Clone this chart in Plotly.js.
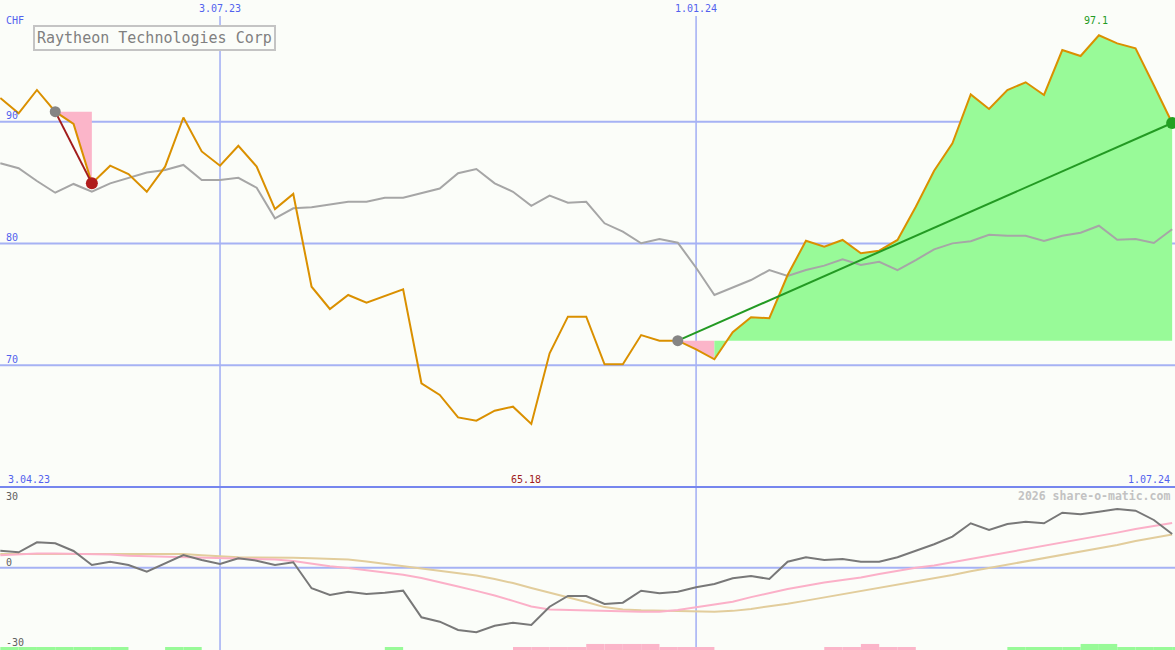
<!DOCTYPE html>
<html>
<head>
<meta charset="utf-8">
<script src="https://cdn.plot.ly/plotly-3.0.1.min.js"></script>
<style>
  html, body { margin: 0; padding: 0; background: #fbfdf9; }
  #chart { width: 1175px; height: 650px; }
</style>
</head>
<body>
<div id="chart"></div>
<script>
// ---------- data ----------
const title = 'Raytheon Technologies Corp';
const currency = 'CHF';
const dates = [
  '2023-04-10','2023-04-17','2023-04-24','2023-05-01','2023-05-08','2023-05-15','2023-05-22','2023-05-29','2023-06-05','2023-06-12',
  '2023-06-19','2023-06-26','2023-07-03','2023-07-10','2023-07-17','2023-07-24','2023-07-31','2023-08-07','2023-08-14','2023-08-21',
  '2023-08-28','2023-09-04','2023-09-11','2023-09-18','2023-09-25','2023-10-02','2023-10-09','2023-10-16','2023-10-23','2023-10-30',
  '2023-11-06','2023-11-13','2023-11-20','2023-11-27','2023-12-04','2023-12-11','2023-12-18','2023-12-25','2024-01-01','2024-01-08',
  '2024-01-15','2024-01-22','2024-01-29','2024-02-05','2024-02-12','2024-02-19','2024-02-26','2024-03-04','2024-03-11','2024-03-18',
  '2024-03-25','2024-04-01','2024-04-08','2024-04-15','2024-04-22','2024-04-29','2024-05-06','2024-05-13','2024-05-20','2024-05-27',
  '2024-06-03','2024-06-10','2024-06-17','2024-06-24','2024-07-01'
];
const price = [
  91.95, 90.69, 92.61, 90.83, 89.82, 84.94, 86.39, 85.70, 84.25, 86.31,
  90.35, 87.56, 86.39, 88.03, 86.32, 82.83, 84.07, 76.45, 74.62, 75.77,
  75.14, 75.69, 76.24, 68.52, 67.56, 65.72, 65.45, 66.27, 66.60, 65.18,
  70.98, 73.99, 73.99, 70.08, 70.08, 72.48, 72.02, 72.02, 71.30, 70.49,
  72.71, 73.94, 73.86, 77.41, 80.23, 79.74, 80.29, 79.20, 79.41, 80.29,
  83.02, 85.98, 88.23, 92.25, 91.05, 92.61, 93.24, 92.20, 95.89, 95.40,
  97.10, 96.44, 96.03, 93.00, 89.90
];
const benchmark = [
  86.59, 86.18, 85.13, 84.17, 84.89, 84.25, 84.94, 85.36, 85.83, 86.04,
  86.45, 85.22, 85.22, 85.40, 84.58, 82.07, 82.89, 82.97, 83.22, 83.43,
  83.43, 83.76, 83.76, 84.12, 84.52, 85.77, 86.12, 84.94, 84.25, 83.10,
  83.93, 83.35, 83.43, 81.66, 80.97, 80.02, 80.37, 80.07, 78.01, 75.77,
  76.37, 77.00, 77.82, 77.33, 77.82, 78.18, 78.70, 78.23, 78.50, 77.82,
  78.64, 79.52, 80.01, 80.18, 80.72, 80.64, 80.64, 80.21, 80.64, 80.89,
  81.46, 80.31, 80.37, 80.04, 81.17
];
const momentum = [
  6.30, 5.70, 9.41, 9.04, 6.19, 1.00, 2.22, 1.00, -1.48, 1.63,
  4.70, 2.85, 1.37, 3.48, 2.59, 1.00, 2.00, -7.63, -10.11, -8.89,
  -9.74, -9.26, -8.52, -18.38, -20.01, -23.09, -23.94, -21.50, -20.38, -21.24,
  -14.45, -10.49, -10.49, -13.45, -12.97, -8.52, -9.49, -8.89, -7.26, -6.04,
  -3.93, -3.08, -4.19, 2.22, 3.85, 2.85, 3.22, 2.22, 2.22, 3.85,
  6.19, 8.67, 11.49, 16.46, 13.97, 16.20, 17.05, 16.46, 20.39, 19.79,
  20.76, 21.76, 21.13, 17.68, 12.49
];
const maFast = [
  4.6, 4.9, 5.3, 5.3, 5.2, 5.1, 4.9, 4.4, 4.2, 4.0,
  3.9, 3.7, 3.6, 3.4, 3.2, 3.0, 2.5, 1.4, 0.5, -0.1,
  -0.9, -1.7, -2.6, -3.8, -5.3, -7.0, -8.6, -10.3, -12.3, -14.4,
  -15.5, -15.7, -15.8, -16.0, -16.2, -16.3, -16.3, -15.7, -14.7, -13.6,
  -12.6, -10.9, -9.4, -7.9, -6.7, -5.5, -4.6, -3.6, -2.3, -1.2,
  0.0, 0.8, 2.0, 3.2, 4.4, 5.6, 6.8, 8.0, 9.3, 10.6,
  11.8, 13.0, 14.3, 15.5, 16.6
];
const maSlow = [
  5.1, 5.1, 5.2, 5.2, 5.2, 5.2, 5.2, 5.2, 5.2, 5.2,
  5.1, 4.6, 4.2, 3.9, 3.8, 3.8, 3.7, 3.5, 3.2, 3.0,
  2.3, 1.4, 0.5, -0.4, -1.2, -2.0, -2.9, -4.2, -5.7, -7.5,
  -9.2, -10.9, -12.7, -14.6, -15.5, -15.8, -15.9, -16.1, -16.3, -16.3,
  -16.0, -15.3, -14.3, -13.4, -12.2, -11.0, -9.9, -8.7, -7.5, -6.4,
  -5.2, -3.9, -2.7, -1.3, -0.1, 1.1, 2.3, 3.5, 4.7, 6.0,
  7.2, 8.4, 9.9, 11.2, 12.3
];
// weekly signal: +1/+2 green, -1/-2 pink, 0 none
const signal = [
  1, 1, 1, 1, 1, 1, 1, 0, 0, 1,
  1, 0, 0, 0, 0, 0, 0, 0, 0, 0,
  0, 1, 0, 0, 0, 0, 0, 0, -1, -1,
  -1, -1, -2, -2, -2, -2, -1, -1, -1, 0,
  0, 0, 0, 0, 0, -1, -1, -2, -1, -1,
  0, 0, 0, 0, 0, 1, 1, 1, 1, 2,
  2, 1, 1, 1, 1
];
const priceTicks = [90, 80, 70];
const oscTicks = [30, 0, -30];
const dateTicks = ['2023-07-03', '2024-01-01'];
const dateTickText = ['3.07.23', '1.01.24'];
const startLabel = '3.04.23';
const endLabel = '1.07.24';
const minLabel = '65.18';
const maxLabel = '97.1';
const credit = '2026 share-o-matic.com';
// event indices (into the arrays)
const drop = { start: 3, end: 5 };
const rally = { start: 37, low: 39, end: 64 };

// ---------- helpers ----------
const W = 1175, H = 650;
const px = v => v / W;
const py = v => 1 - v / H;
const FONT = 'DejaVu Sans Mono, monospace';
const BLUE = '#5262ee';
const GRID = '#a6b2f4';
const BG = '#fbfdf9';
const PINK = '#fbb5c9';
const GREEN = '#98fa98';
const WEEK = 7 * 24 * 3600 * 1000;

function fillBetween(i0, i1, base, color) {
  const xs = dates.slice(i0, i1 + 1);
  const ys = price.slice(i0, i1 + 1);
  return {
    x: xs.concat([dates[i1], dates[i0]]),
    y: ys.concat([base, base]),
    type: 'scatter', mode: 'lines', fill: 'toself', fillcolor: color,
    line: { width: 0, color: color }, hoverinfo: 'skip', xaxis: 'x', yaxis: 'y'
  };
}

const traces = [];
// signal bars at bottom
traces.push({
  type: 'bar', x: dates, y: signal.map(s => Math.abs(s) * 1.12), base: -30.5,
  width: WEEK, offset: 0,
  marker: { color: signal.map(s => s > 0 ? GREEN : PINK), line: { width: 0 } },
  xaxis: 'x', yaxis: 'y2', hoverinfo: 'skip'
});
// oscillator lines
traces.push({ x: dates, y: maSlow, type: 'scatter', mode: 'lines', line: { color: '#e2cd9c', width: 2 }, xaxis: 'x', yaxis: 'y2' });
traces.push({ x: dates, y: maFast, type: 'scatter', mode: 'lines', line: { color: '#fbb0c8', width: 2 }, xaxis: 'x', yaxis: 'y2' });
traces.push({ x: dates, y: momentum, type: 'scatter', mode: 'lines', line: { color: '#787878', width: 2 }, xaxis: 'x', yaxis: 'y2' });

// fills in price panel
traces.push(fillBetween(drop.start, drop.end, price[drop.start], PINK));
traces.push(fillBetween(rally.start, rally.low, price[rally.start], PINK));
traces.push(fillBetween(rally.low, rally.end, price[rally.start], GREEN));

// benchmark and price
traces.push({ x: dates, y: benchmark, type: 'scatter', mode: 'lines', line: { color: '#a6a6a6', width: 2 }, xaxis: 'x', yaxis: 'y' });
traces.push({ x: dates, y: price, type: 'scatter', mode: 'lines', line: { color: '#da9000', width: 2 }, xaxis: 'x', yaxis: 'y' });

// trend lines
traces.push({ x: [dates[drop.start], dates[drop.end]], y: [price[drop.start], price[drop.end]], type: 'scatter', mode: 'lines', line: { color: '#a21c1c', width: 2 } });
traces.push({ x: [dates[rally.start], dates[rally.end]], y: [price[rally.start], price[rally.end]], type: 'scatter', mode: 'lines', line: { color: '#239a23', width: 2 } });

// markers
traces.push({ x: [dates[drop.start], dates[rally.start]], y: [price[drop.start], price[rally.start]], type: 'scatter', mode: 'markers', marker: { color: '#858585', size: 11 } });
traces.push({ x: [dates[drop.end]], y: [price[drop.end]], type: 'scatter', mode: 'markers', marker: { color: '#b01d1d', size: 12 } });
traces.push({ x: [dates[rally.end]], y: [price[rally.end]], type: 'scatter', mode: 'markers', marker: { color: '#22a022', size: 12 } });

// ---------- shapes ----------
const shapes = [];
priceTicks.forEach(v => shapes.push({ type: 'line', xref: 'paper', yref: 'y', x0: 0, x1: 1, y0: v, y1: v, line: { color: GRID, width: 2 }, layer: 'below' }));
dateTicks.forEach(d => shapes.push({ type: 'line', xref: 'x', yref: 'paper', x0: d, x1: d, y0: 0, y1: py(16), line: { color: GRID, width: 1.6 }, layer: 'below' }));
shapes.push({ type: 'line', xref: 'paper', yref: 'y2', x0: 0, x1: 1, y0: 0, y1: 0, line: { color: GRID, width: 2 }, layer: 'below' });
shapes.push({ type: 'line', xref: 'paper', yref: 'paper', x0: 0, x1: 1, y0: py(487), y1: py(487), line: { color: '#7686ee', width: 2 }, layer: 'below' });

// ---------- annotations ----------
const ann = [];
function txt(text, x, xref, y, yref, opts) {
  ann.push(Object.assign({
    text: text, x: x, xref: xref, y: y, yref: yref, showarrow: false,
    xanchor: 'left', yanchor: 'middle', font: { family: FONT, size: 10, color: BLUE }
  }, opts || {}));
}
txt(currency, px(4), 'paper', py(21), 'paper');
priceTicks.forEach(v => txt(String(v), px(4), 'paper', v, 'y', { yshift: 6 }));
dateTicks.forEach((d, i) => txt(dateTickText[i], d, 'x', py(9), 'paper', { xanchor: 'center' }));
txt(startLabel, px(6), 'paper', py(479), 'paper');
txt(endLabel, px(1172), 'paper', py(479), 'paper', { xanchor: 'right' });
txt(minLabel, dates[price.indexOf(Math.min(...price))], 'x', py(479), 'paper', { xanchor: 'center', xshift: -5, font: { family: FONT, size: 10, color: '#a01c1c' } });
txt(maxLabel, dates[price.indexOf(Math.max(...price))], 'x', py(21), 'paper', { xanchor: 'center', xshift: -3, font: { family: FONT, size: 10, color: '#239a23' } });
txt(credit, px(1172), 'paper', py(496), 'paper', { xanchor: 'right', font: { family: FONT, size: 11.5, color: '#c2c2c2', weight: 'bold' } });
// oscillator tick labels: placed just inside the panel (text centres in pixels)
const oscLabelY = [496, 562, 642];
oscTicks.forEach((v, i) => txt(String(v), px(4), 'paper', py(oscLabelY[i]), 'paper', { font: { family: FONT, size: 10, color: '#606060' } }));
// title box
ann.push({
  text: title, xref: 'paper', yref: 'paper', x: px(33), y: py(25), xanchor: 'left', yanchor: 'top',
  showarrow: false, font: { family: FONT, size: 15, color: '#808080' },
  bordercolor: '#c4c4c4', borderwidth: 2, borderpad: 2, bgcolor: BG
});

const layout = {
  width: W, height: H,
  margin: { l: 0, r: 0, t: 0, b: 0, pad: 0 },
  paper_bgcolor: BG, plot_bgcolor: BG,
  showlegend: false,
  barmode: 'overlay',
  xaxis: { type: 'date', range: ['2023-04-09 21:07', '2024-07-02 02:10'], visible: false, fixedrange: true, anchor: 'y' },
  yaxis: { domain: [py(487), 1], range: [60, 100], visible: false, fixedrange: true },
  yaxis2: { domain: [0, py(487)], range: [-30.5, 29.9], visible: false, fixedrange: true },
  shapes: shapes,
  annotations: ann,
  hovermode: false
};

Plotly.newPlot('chart', traces, layout, { displayModeBar: false, staticPlot: true });
</script>
</body>
</html>
